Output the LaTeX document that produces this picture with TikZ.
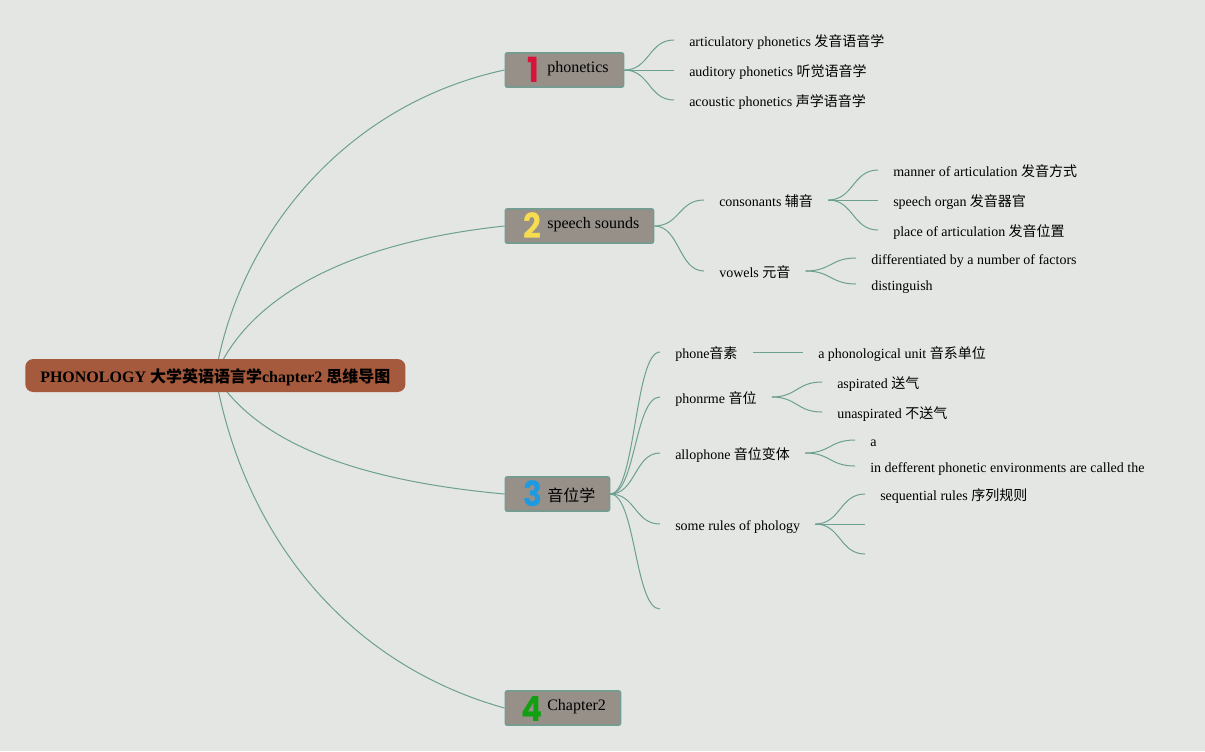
\documentclass[tikz,border=0pt]{standalone}
\usepackage{fontspec}
\setmainfont{Liberation Serif}
\newfontfamily\cjk{Noto Sans CJK SC}
\newfontfamily\badgefont[BoldFont=* Bold]{Poppins}
\usetikzlibrary{positioning,backgrounds}
\definecolor{mmpaper}{RGB}{227,230,227}
\definecolor{mmroot}{RGB}{166,90,61}
\definecolor{mmtopic}{RGB}{150,144,137}
\definecolor{mmborder}{RGB}{112,158,146}
\definecolor{mmedge}{RGB}{108,160,144}
\definecolor{mmred}{RGB}{217,20,58}
\definecolor{mmyellow}{RGB}{247,220,79}
\definecolor{mmblue}{RGB}{30,155,224}
\definecolor{mmgreen}{RGB}{18,160,18}
\newcommand{\badgedigit}[1]{\scalebox{0.9}[1]{\fontsize{26}{26}\badgefont\bfseries #1}}
\tikzstyle{rootnode} = [rectangle, rounded corners=6pt, fill=mmroot, inner xsep=11.25pt, inner ysep=0pt, minimum height=24.75pt, anchor=west, text height=12.5pt, text depth=1.5pt, font=\fontsize{12}{14}\selectfont\bfseries]
\tikzstyle{topic} = [rectangle, rounded corners=1.5pt, draw=mmborder, fill=mmtopic, line width=1.1pt, minimum height=25.75pt, anchor=west]
\tikzstyle{badge} = [inner sep=0pt]
\tikzstyle{topiclabel} = [inner sep=0pt, anchor=west, text height=9pt, text depth=3pt, font=\fontsize{12}{14}\selectfont]
\tikzstyle{leaf} = [inner xsep=11.25pt, inner ysep=0pt, anchor=west, text height=10.5pt, text depth=1.5pt, font=\fontsize{10.5}{12}\selectfont]
\tikzstyle{link} = [line width=0.75pt, color=mmedge]
\tikzstyle{branch} = [link, out=0, in=180, distance=19pt]
\begin{document}
\begin{tikzpicture}[x=0.75pt, y=-0.75pt]
\useasboundingbox (0,0) rectangle (1205,751);

\node (root) [rootnode] at (25,375.5) {PHONOLOGY {\cjk 大学英语语言学}chapter2 {\cjk 思维导图}};

\node (phonetics) [topic, minimum width=88.75pt] at (504.5,70) {};
\node (sounds) [topic, minimum width=111.25pt] at (504.5,226) {};
\node (phonology) [topic, minimum width=78.25pt] at (504.5,494) {};
\node (chapter) [topic, minimum width=86.5pt] at (504.5,708) {};

\node (badge1) [badge, text=mmred] at (533,70) {\badgedigit{1}};
\node (badge2) [badge, text=mmyellow] at (532.5,226) {\badgedigit{2}};
\node (badge3) [badge, text=mmblue] at (532.5,494) {\badgedigit{3}};
\node (badge4) [badge, text=mmgreen] at (532.5,709) {\badgedigit{4}};

\node (label1) [topiclabel] at (547,68) {phonetics};
\node (label2) [topiclabel] at (547,224) {speech sounds};
\node (label3) [topiclabel] at (547,497) {{\cjk 音位学}};
\node (label4) [topiclabel] at (547,706) {Chapter2};

\node (articulatory) [leaf] at (674,40) {articulatory phonetics {\cjk 发音语音学}};
\node (auditory) [leaf] at (674,70) {auditory phonetics {\cjk 听觉语音学}};
\node (acoustic) [leaf] at (674,100) {acoustic phonetics {\cjk 声学语音学}};

\node (consonants) [leaf] at (704,200) {consonants {\cjk 辅音}};
\node (vowels) [leaf] at (704,271) {vowels {\cjk 元音}};
\node (manner) [leaf] at (878,170) {manner of articulation {\cjk 发音方式}};
\node (organ) [leaf] at (878,200) {speech organ {\cjk 发音器官}};
\node (place) [leaf] at (878,230) {place of articulation {\cjk 发音位置}};
\node (factors) [leaf] at (856,258) {differentiated by a number of factors};
\node (distinguish) [leaf] at (856,284) {distinguish};

\node (phone) [leaf] at (660,352) {phone{\cjk 音素}};
\node (phoneme) [leaf] at (660,397) {phonrme {\cjk 音位}};
\node (allophone) [leaf] at (660,453) {allophone {\cjk 音位变体}};
\node (rules) [leaf] at (660,524) {some rules of phology};
\coordinate (blank) at (660,609);

\node (unit) [leaf] at (803,352) {a phonological unit {\cjk 音系单位}};
\node (aspirated) [leaf] at (822,382) {aspirated {\cjk 送气}};
\node (unaspirated) [leaf] at (822,412) {unaspirated {\cjk 不送气}};
\node (a) [leaf] at (855,440) {a};
\node (environments) [leaf] at (855,466) {in defferent phonetic environments are called the};
\node (sequential) [leaf] at (865,494) {sequential rules {\cjk 序列规则}};
\coordinate (rule2) at (865,524);
\coordinate (rule3) at (865,554);

\begin{scope}[on background layer]
\fill[mmpaper] (0,0) rectangle (1205,751);
\draw[link] (root.center) .. controls (238,238) and (342,105) .. (phonetics.west);
\draw[link] (root.center) .. controls (248,298) and (345,243) .. (sounds.west);
\draw[link] (root.center) .. controls (255,440) and (350,480) .. (phonology.west);
\draw[link] (root.center) .. controls (245,540) and (350,665) .. (chapter.west);
\end{scope}

\draw[branch] (phonetics.east) to (articulatory.west);
\draw[link] (phonetics.east) -- (auditory.west);
\draw[branch] (phonetics.east) to (acoustic.west);

\draw[branch] (sounds.east) to (consonants.west);
\draw[branch] (sounds.east) to (vowels.west);
\draw[branch] (consonants.east) to (manner.west);
\draw[link] (consonants.east) -- (organ.west);
\draw[branch] (consonants.east) to (place.west);
\draw[branch] (vowels.east) to (factors.west);
\draw[branch] (vowels.east) to (distinguish.west);

\draw[branch] (phonology.east) to (phone.west);
\draw[branch] (phonology.east) to (phoneme.west);
\draw[branch] (phonology.east) to (allophone.west);
\draw[branch] (phonology.east) to (rules.west);
\draw[branch] (phonology.east) to (blank);

\draw[link] (phone.east) -- (unit.west);
\draw[branch] (phoneme.east) to (aspirated.west);
\draw[branch] (phoneme.east) to (unaspirated.west);
\draw[branch] (allophone.east) to (a.west);
\draw[branch] (allophone.east) to (environments.west);
\draw[branch] (rules.east) to (sequential.west);
\draw[link] (rules.east) -- (rule2);
\draw[branch] (rules.east) to (rule3);
\end{tikzpicture}
\end{document}
